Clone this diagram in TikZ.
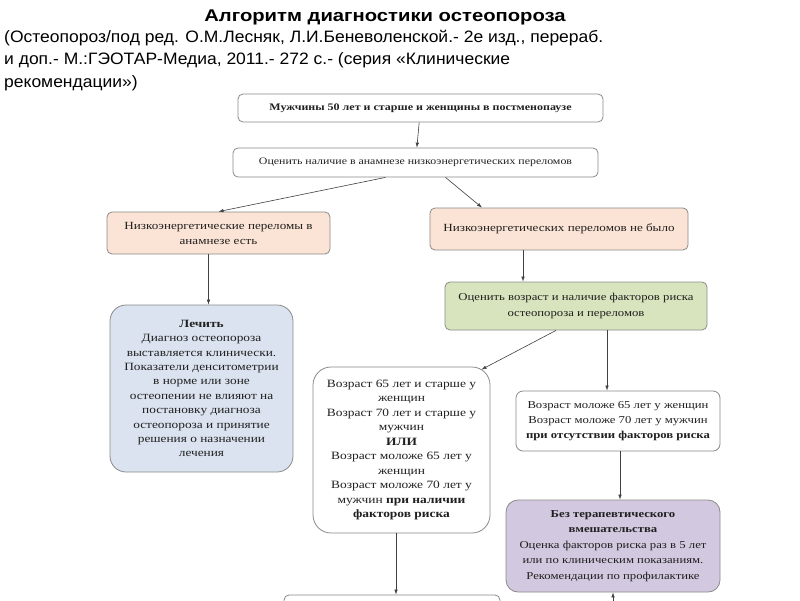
\documentclass[tikz,border=0pt]{standalone}
\usepackage{fontspec}
\setmainfont[FakeStretch=1.2]{Liberation Serif}
\newfontfamily\headfont[FakeStretch=1.19]{Liberation Sans}
\newfontfamily\srcfont[FakeStretch=1.06]{Liberation Sans}
\usetikzlibrary{arrows.meta}

\definecolor{boxline}{HTML}{8A8A8A}
\definecolor{txt}{HTML}{202020}
\definecolor{peach}{HTML}{FBE4D5}
\definecolor{bluefill}{HTML}{DAE3EF}
\definecolor{greenfill}{HTML}{D8E4BD}
\definecolor{violetfill}{HTML}{D2C8DF}

\begin{document}
\begin{tikzpicture}[x=1pt, y=-1pt, inner sep=2pt,
		boxstyle/.style={draw=boxline, line width=0.8pt, rounded corners=5pt, align=center,
			text=txt, font=\fontsize{10.5}{15}\selectfont},
		bigbox/.style={boxstyle, rounded corners=16pt},
		edgestyle/.style={draw=black!75, line width=0.6pt, -{Latex[length=5pt, width=3.5pt]}}]

		\useasboundingbox [fill=white] (0,0) rectangle (800,600);
		\clip (0,0) rectangle (800,600);

		% heading
		\node [text=black, font=\headfont\bfseries\fontsize{17}{20}\selectfont] (title) at (385,17)
			{Алгоритм диагностики остеопороза};
		\node [anchor=north west, align=left, text=black, font=\srcfont\fontsize{16.5}{22.5}\selectfont] (source) at (2,28)
			{(Остеопороз/под ред. О.М.Лесняк, Л.И.Беневоленской.- 2е изд., перераб.\\
			и доп.- М.:ГЭОТАР-Медиа, 2011.- 272 с.- (серия «Клинические\\
			рекомендации»)};

		% boxes
		\node [boxstyle, minimum width=365pt, minimum height=28pt, font=\bfseries\fontsize{10}{12}\selectfont] (start) at (420.5,108)
			{Мужчины 50 лет и старше и женщины в постменопаузе};
		\node [boxstyle, minimum width=365pt, minimum height=29pt, font=\fontsize{9.9}{12}\selectfont] (check) at (415.5,162.5)
			{Оценить наличие в анамнезе низкоэнергетических переломов};
		\node [boxstyle, fill=peach, minimum width=223pt, minimum height=42pt, font=\fontsize{10.9}{15}\selectfont] (yes) at (218.5,233)
			{Низкоэнергетические переломы в\\ анамнезе есть};
		\node [boxstyle, fill=peach, minimum width=258pt, minimum height=42pt, font=\fontsize{10.9}{15}\selectfont] (no) at (559,229)
			{Низкоэнергетических переломов не было};
		\node [bigbox, fill=bluefill, minimum width=183pt, minimum height=167pt, font=\fontsize{11.1}{14.4}\selectfont] (treat) at (201.5,388.5)
			{\textbf{Лечить}\\ Диагноз остеопороза\\ выставляется клинически.\\ Показатели денситометрии\\
			в норме или зоне\\ остеопении не влияют на\\ постановку диагноза\\ остеопороза и принятие\\
			решения о назначении\\ лечения};
		\node [boxstyle, fill=greenfill, minimum width=262pt, minimum height=48pt, font=\fontsize{10.6}{16}\selectfont] (assess) at (576,306)
			{Оценить возраст и наличие факторов риска\\ остеопороза и переломов};
		\node [bigbox, minimum width=177pt, minimum height=166pt, rounded corners=18pt, font=\fontsize{11.2}{14.5}\selectfont] (riskyes) at (401.5,450)
			{Возраст 65 лет и старше у\\ женщин\\ Возраст 70 лет и старше у\\ мужчин\\ \textbf{ИЛИ}\\
			Возраст моложе 65 лет у\\ женщин\\ Возраст моложе 70 лет у\\ мужчин \textbf{при наличии}\\
			\textbf{факторов риска}};
		\node [boxstyle, minimum width=204pt, minimum height=60pt, rounded corners=7pt, font=\fontsize{10.6}{15}\selectfont] (riskno) at (618,421)
			{Возраст моложе 65 лет у женщин\\ Возраст моложе 70 лет у мужчин\\ \textbf{при отсутствии факторов риска}};
		\node [boxstyle, fill=violetfill, minimum width=214pt, minimum height=92pt, rounded corners=12pt, font=\fontsize{10.6}{15.5}\selectfont] (watch) at (613,546)
			{\textbf{Без терапевтического}\\ \textbf{вмешательства}\\ Оценка факторов риска раз в 5 лет\\
			или по клиническим показаниям.\\ Рекомендации по профилактике};
		\node [boxstyle, minimum width=216pt, minimum height=40pt] (next) at (392,615) {};
		\coordinate (below) at (613,606);

		% connectors
		\draw [edgestyle] (start) -- (check);
		\draw [edgestyle] ([xshift=-30pt]check.south) -- (yes.north);
		\draw [edgestyle] ([xshift=30pt]check.south) -- ([xshift=-77pt]no.north);
		\draw [edgestyle] ([xshift=-10pt]yes.south) -- ([xshift=-10pt]yes.south |- treat.north);
		\draw [edgestyle] ([xshift=-36pt]no.south) -- ([xshift=-36pt]no.south |- assess.north);
		\draw [edgestyle] ([xshift=-20pt]assess.south) -- ([xshift=-9pt, yshift=-3pt]riskyes.north east);
		\draw [edgestyle] ([xshift=31pt]assess.south) -- ([xshift=31pt]assess.south |- riskno.north);
		\draw [edgestyle] ([xshift=2pt]riskno.south) -- ([xshift=2pt]riskno.south |- watch.north);
		\draw [edgestyle] ([xshift=-5.5pt]riskyes.south) -- ([xshift=-5.5pt]riskyes.south |- next.north);
		\draw [edgestyle] (below) -- (watch.south);
\end{tikzpicture}
\end{document}
